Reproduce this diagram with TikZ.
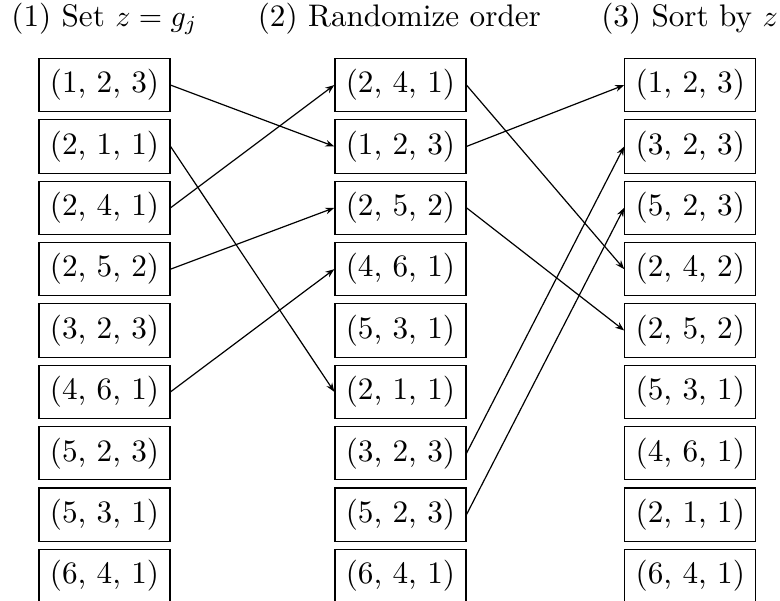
\documentclass[tikz,border=0pt]{standalone}
\usetikzlibrary{arrows.meta}

\begin{document}
\begin{tikzpicture}[
    every node/.style={font=\fontsize{10.4}{12.5}\selectfont},
    tup/.style={rectangle, draw, line width=0.4pt, inner sep=0pt,
                minimum width=1.535cm, minimum height=0.625cm},
    head/.style={anchor=base},
    link/.style={-{Stealth[length=3pt]}, line width=0.4pt},
]
\useasboundingbox (0,0.02) rectangle (9.14,7.06);

% ================================================ column titles
\node[head] (h1) at (1.224, 6.75) {(1) Set $z = g_j$};
\node[head] (h2) at (4.680, 6.75) {(2) Randomize order};
\node[head] (h3) at (8.080, 6.75) {(3) Sort by $z$};

% ================================================ set z
\foreach \i/\t in {1/{(1, 2, 3)}, 2/{(2, 1, 1)}, 3/{(2, 4, 1)}, 4/{(2, 5, 2)},
                   5/{(3, 2, 3)}, 6/{(4, 6, 1)}, 7/{(5, 2, 3)}, 8/{(5, 3, 1)},
                   9/{(6, 4, 1)}}{
    \node[tup] (s\i) at (1.224, {6.063-0.719*(\i-1)}) {\t};
}

% ================================================ randomized
\foreach \i/\t in {1/{(2, 4, 1)}, 2/{(1, 2, 3)}, 3/{(2, 5, 2)}, 4/{(4, 6, 1)},
                   5/{(5, 3, 1)}, 6/{(2, 1, 1)}, 7/{(3, 2, 3)}, 8/{(5, 2, 3)},
                   9/{(6, 4, 1)}}{
    \node[tup] (r\i) at (4.692, {6.063-0.719*(\i-1)}) {\t};
}

% ================================================ sorted
\foreach \i/\t in {1/{(1, 2, 3)}, 2/{(3, 2, 3)}, 3/{(5, 2, 3)}, 4/{(2, 4, 2)},
                   5/{(2, 5, 2)}, 6/{(5, 3, 1)}, 7/{(4, 6, 1)}, 8/{(2, 1, 1)},
                   9/{(6, 4, 1)}}{
    \node[tup] (o\i) at (8.089, {6.063-0.719*(\i-1)}) {\t};
}

% where the tuples went
\foreach \a/\b in {1/2, 2/6, 3/1, 4/3, 6/4}{
    \draw[link] (s\a.east) -- (r\b.west);
}
\foreach \a/\b in {1/4, 2/1, 3/5, 7/2, 8/3}{
    \draw[link] (r\a.east) -- (o\b.west);
}

\end{tikzpicture}
\end{document}
